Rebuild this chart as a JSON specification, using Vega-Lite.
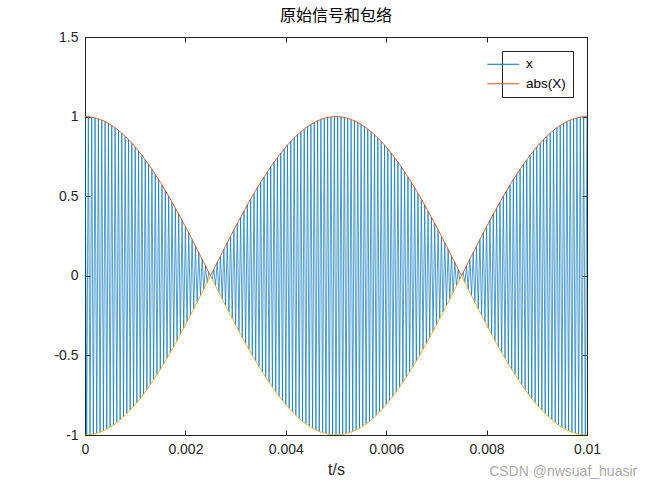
{
  "$schema": "https://vega.github.io/schema/vega-lite/v6.json",
  "width": 502,
  "height": 398,
  "autosize": {"type": "none"},
  "padding": {"left": 85, "top": 37, "right": 63, "bottom": 53},
  "background": "white",
  "title": {"text": "原始信号和包络", "font": "Noto Sans CJK SC", "fontSize": 16, "fontWeight": "normal", "color": "#000000", "offset": 6},
  "config": {
    "view": {"stroke": "#262626", "strokeWidth": 1},
    "axis": {
      "grid": false,
      "domainColor": "#262626",
      "tickColor": "#262626",
      "labelColor": "#262626",
      "labelFont": "Liberation Sans",
      "labelFontSize": 14,
      "labelFlush": false,
      "titleFont": "Liberation Sans",
      "titleFontSize": 16,
      "titleFontWeight": "normal",
      "titleColor": "#262626",
      "tickSize": -5,
      "labelPadding": 12,
      "domainWidth": 1,
      "tickWidth": 1
    }
  },
  "datasets": {
    "sig": [
      {"t":0,"x":1},{"t":0.0000333,"x":-1},{"t":0.0000667,"x":0.999},{"t":0.0001,"x":-0.998},{"t":0.0001333,"x":0.996},{"t":0.0001667,"x":-0.995},{"t":0.0002,"x":0.992},{"t":0.0002333,"x":-0.989},{"t":0.0002667,"x":0.986},{"t":0.0003,"x":-0.982},
      {"t":0.0003333,"x":0.978},{"t":0.0003667,"x":-0.974},{"t":0.0004,"x":0.969},{"t":0.0004333,"x":-0.963},{"t":0.0004667,"x":0.957},{"t":0.0005,"x":-0.951},{"t":0.0005333,"x":0.944},{"t":0.0005667,"x":-0.937},{"t":0.0006,"x":0.930},{"t":0.0006333,"x":-0.922},
      {"t":0.0006667,"x":0.914},{"t":0.0007,"x":-0.905},{"t":0.0007333,"x":0.896},{"t":0.0007667,"x":-0.886},{"t":0.0008,"x":0.876},{"t":0.0008333,"x":-0.866},{"t":0.0008667,"x":0.855},{"t":0.0009,"x":-0.844},{"t":0.0009333,"x":0.833},{"t":0.0009667,"x":-0.821},
      {"t":0.001,"x":0.809},{"t":0.0010333,"x":-0.797},{"t":0.0010667,"x":0.784},{"t":0.0011,"x":-0.771},{"t":0.0011333,"x":0.757},{"t":0.0011667,"x":-0.743},{"t":0.0012,"x":0.729},{"t":0.0012333,"x":-0.714},{"t":0.0012667,"x":0.700},{"t":0.0013,"x":-0.685},
      {"t":0.0013333,"x":0.669},{"t":0.0013667,"x":-0.653},{"t":0.0014,"x":0.637},{"t":0.0014333,"x":-0.621},{"t":0.0014667,"x":0.605},{"t":0.0015,"x":-0.588},{"t":0.0015333,"x":0.571},{"t":0.0015667,"x":-0.553},{"t":0.0016,"x":0.536},{"t":0.0016333,"x":-0.518},
      {"t":0.0016667,"x":0.5},{"t":0.0017,"x":-0.482},{"t":0.0017333,"x":0.463},{"t":0.0017667,"x":-0.445},{"t":0.0018,"x":0.426},{"t":0.0018333,"x":-0.407},{"t":0.0018667,"x":0.388},{"t":0.0019,"x":-0.368},{"t":0.0019333,"x":0.349},{"t":0.0019667,"x":-0.329},
      {"t":0.002,"x":0.309},{"t":0.0020333,"x":-0.289},{"t":0.0020667,"x":0.269},{"t":0.0021,"x":-0.249},{"t":0.0021333,"x":0.228},{"t":0.0021667,"x":-0.208},{"t":0.0022,"x":0.187},{"t":0.0022333,"x":-0.167},{"t":0.0022667,"x":0.146},{"t":0.0023,"x":-0.125},
      {"t":0.0023333,"x":0.105},{"t":0.0023667,"x":-0.084},{"t":0.0024,"x":0.063},{"t":0.0024333,"x":-0.042},{"t":0.0024667,"x":0.021},{"t":0.0025,"x":0},{"t":0.0025333,"x":-0.021},{"t":0.0025667,"x":0.042},{"t":0.0026,"x":-0.063},{"t":0.0026333,"x":0.084},
      {"t":0.0026667,"x":-0.105},{"t":0.0027,"x":0.125},{"t":0.0027333,"x":-0.146},{"t":0.0027667,"x":0.167},{"t":0.0028,"x":-0.187},{"t":0.0028333,"x":0.208},{"t":0.0028667,"x":-0.228},{"t":0.0029,"x":0.249},{"t":0.0029333,"x":-0.269},{"t":0.0029667,"x":0.289},
      {"t":0.003,"x":-0.309},{"t":0.0030333,"x":0.329},{"t":0.0030667,"x":-0.349},{"t":0.0031,"x":0.368},{"t":0.0031333,"x":-0.388},{"t":0.0031667,"x":0.407},{"t":0.0032,"x":-0.426},{"t":0.0032333,"x":0.445},{"t":0.0032667,"x":-0.463},{"t":0.0033,"x":0.482},
      {"t":0.0033333,"x":-0.5},{"t":0.0033667,"x":0.518},{"t":0.0034,"x":-0.536},{"t":0.0034333,"x":0.553},{"t":0.0034667,"x":-0.571},{"t":0.0035,"x":0.588},{"t":0.0035333,"x":-0.605},{"t":0.0035667,"x":0.621},{"t":0.0036,"x":-0.637},{"t":0.0036333,"x":0.653},
      {"t":0.0036667,"x":-0.669},{"t":0.0037,"x":0.685},{"t":0.0037333,"x":-0.700},{"t":0.0037667,"x":0.714},{"t":0.0038,"x":-0.729},{"t":0.0038333,"x":0.743},{"t":0.0038667,"x":-0.757},{"t":0.0039,"x":0.771},{"t":0.0039333,"x":-0.784},{"t":0.0039667,"x":0.797},
      {"t":0.004,"x":-0.809},{"t":0.0040333,"x":0.821},{"t":0.0040667,"x":-0.833},{"t":0.0041,"x":0.844},{"t":0.0041333,"x":-0.855},{"t":0.0041667,"x":0.866},{"t":0.0042,"x":-0.876},{"t":0.0042333,"x":0.886},{"t":0.0042667,"x":-0.896},{"t":0.0043,"x":0.905},
      {"t":0.0043333,"x":-0.914},{"t":0.0043667,"x":0.922},{"t":0.0044,"x":-0.930},{"t":0.0044333,"x":0.937},{"t":0.0044667,"x":-0.944},{"t":0.0045,"x":0.951},{"t":0.0045333,"x":-0.957},{"t":0.0045667,"x":0.963},{"t":0.0046,"x":-0.969},{"t":0.0046333,"x":0.974},
      {"t":0.0046667,"x":-0.978},{"t":0.0047,"x":0.982},{"t":0.0047333,"x":-0.986},{"t":0.0047667,"x":0.989},{"t":0.0048,"x":-0.992},{"t":0.0048333,"x":0.995},{"t":0.0048667,"x":-0.996},{"t":0.0049,"x":0.998},{"t":0.0049333,"x":-0.999},{"t":0.0049667,"x":1},
      {"t":0.005,"x":-1},{"t":0.0050333,"x":1},{"t":0.0050667,"x":-0.999},{"t":0.0051,"x":0.998},{"t":0.0051333,"x":-0.996},{"t":0.0051667,"x":0.995},{"t":0.0052,"x":-0.992},{"t":0.0052333,"x":0.989},{"t":0.0052667,"x":-0.986},{"t":0.0053,"x":0.982},
      {"t":0.0053333,"x":-0.978},{"t":0.0053667,"x":0.974},{"t":0.0054,"x":-0.969},{"t":0.0054333,"x":0.963},{"t":0.0054667,"x":-0.957},{"t":0.0055,"x":0.951},{"t":0.0055333,"x":-0.944},{"t":0.0055667,"x":0.937},{"t":0.0056,"x":-0.930},{"t":0.0056333,"x":0.922},
      {"t":0.0056667,"x":-0.914},{"t":0.0057,"x":0.905},{"t":0.0057333,"x":-0.896},{"t":0.0057667,"x":0.886},{"t":0.0058,"x":-0.876},{"t":0.0058333,"x":0.866},{"t":0.0058667,"x":-0.855},{"t":0.0059,"x":0.844},{"t":0.0059333,"x":-0.833},{"t":0.0059667,"x":0.821},
      {"t":0.006,"x":-0.809},{"t":0.0060333,"x":0.797},{"t":0.0060667,"x":-0.784},{"t":0.0061,"x":0.771},{"t":0.0061333,"x":-0.757},{"t":0.0061667,"x":0.743},{"t":0.0062,"x":-0.729},{"t":0.0062333,"x":0.714},{"t":0.0062667,"x":-0.700},{"t":0.0063,"x":0.685},
      {"t":0.0063333,"x":-0.669},{"t":0.0063667,"x":0.653},{"t":0.0064,"x":-0.637},{"t":0.0064333,"x":0.621},{"t":0.0064667,"x":-0.605},{"t":0.0065,"x":0.588},{"t":0.0065333,"x":-0.571},{"t":0.0065667,"x":0.553},{"t":0.0066,"x":-0.536},{"t":0.0066333,"x":0.518},
      {"t":0.0066667,"x":-0.5},{"t":0.0067,"x":0.482},{"t":0.0067333,"x":-0.463},{"t":0.0067667,"x":0.445},{"t":0.0068,"x":-0.426},{"t":0.0068333,"x":0.407},{"t":0.0068667,"x":-0.388},{"t":0.0069,"x":0.368},{"t":0.0069333,"x":-0.349},{"t":0.0069667,"x":0.329},
      {"t":0.007,"x":-0.309},{"t":0.0070333,"x":0.289},{"t":0.0070667,"x":-0.269},{"t":0.0071,"x":0.249},{"t":0.0071333,"x":-0.228},{"t":0.0071667,"x":0.208},{"t":0.0072,"x":-0.187},{"t":0.0072333,"x":0.167},{"t":0.0072667,"x":-0.146},{"t":0.0073,"x":0.125},
      {"t":0.0073333,"x":-0.105},{"t":0.0073667,"x":0.084},{"t":0.0074,"x":-0.063},{"t":0.0074333,"x":0.042},{"t":0.0074667,"x":-0.021},{"t":0.0075,"x":0},{"t":0.0075333,"x":0.021},{"t":0.0075667,"x":-0.042},{"t":0.0076,"x":0.063},{"t":0.0076333,"x":-0.084},
      {"t":0.0076667,"x":0.105},{"t":0.0077,"x":-0.125},{"t":0.0077333,"x":0.146},{"t":0.0077667,"x":-0.167},{"t":0.0078,"x":0.187},{"t":0.0078333,"x":-0.208},{"t":0.0078667,"x":0.228},{"t":0.0079,"x":-0.249},{"t":0.0079333,"x":0.269},{"t":0.0079667,"x":-0.289},
      {"t":0.008,"x":0.309},{"t":0.0080333,"x":-0.329},{"t":0.0080667,"x":0.349},{"t":0.0081,"x":-0.368},{"t":0.0081333,"x":0.388},{"t":0.0081667,"x":-0.407},{"t":0.0082,"x":0.426},{"t":0.0082333,"x":-0.445},{"t":0.0082667,"x":0.463},{"t":0.0083,"x":-0.482},
      {"t":0.0083333,"x":0.5},{"t":0.0083667,"x":-0.518},{"t":0.0084,"x":0.536},{"t":0.0084333,"x":-0.553},{"t":0.0084667,"x":0.571},{"t":0.0085,"x":-0.588},{"t":0.0085333,"x":0.605},{"t":0.0085667,"x":-0.621},{"t":0.0086,"x":0.637},{"t":0.0086333,"x":-0.653},
      {"t":0.0086667,"x":0.669},{"t":0.0087,"x":-0.685},{"t":0.0087333,"x":0.700},{"t":0.0087667,"x":-0.714},{"t":0.0088,"x":0.729},{"t":0.0088333,"x":-0.743},{"t":0.0088667,"x":0.757},{"t":0.0089,"x":-0.771},{"t":0.0089333,"x":0.784},{"t":0.0089667,"x":-0.797},
      {"t":0.009,"x":0.809},{"t":0.0090333,"x":-0.821},{"t":0.0090667,"x":0.833},{"t":0.0091,"x":-0.844},{"t":0.0091333,"x":0.855},{"t":0.0091667,"x":-0.866},{"t":0.0092,"x":0.876},{"t":0.0092333,"x":-0.886},{"t":0.0092667,"x":0.896},{"t":0.0093,"x":-0.905},
      {"t":0.0093333,"x":0.914},{"t":0.0093667,"x":-0.922},{"t":0.0094,"x":0.930},{"t":0.0094333,"x":-0.937},{"t":0.0094667,"x":0.944},{"t":0.0095,"x":-0.951},{"t":0.0095333,"x":0.957},{"t":0.0095667,"x":-0.963},{"t":0.0096,"x":0.969},{"t":0.0096333,"x":-0.974},
      {"t":0.0096667,"x":0.978},{"t":0.0097,"x":-0.982},{"t":0.0097333,"x":0.986},{"t":0.0097667,"x":-0.989},{"t":0.0098,"x":0.992},{"t":0.0098333,"x":-0.995},{"t":0.0098667,"x":0.996},{"t":0.0099,"x":-0.998},{"t":0.0099333,"x":0.999},{"t":0.0099667,"x":-1},
      {"t":0.01,"x":1}
    ],
    "env": [
      {"t":0,"up":1,"lo":-1},{"t":0.0001,"up":0.998,"lo":-0.998},{"t":0.0002,"up":0.992,"lo":-0.992},{"t":0.0003,"up":0.982,"lo":-0.982},{"t":0.0004,"up":0.969,"lo":-0.969},{"t":0.0005,"up":0.951,"lo":-0.951},{"t":0.0006,"up":0.930,"lo":-0.930},{"t":0.0007,"up":0.905,"lo":-0.905},{"t":0.0008,"up":0.876,"lo":-0.876},{"t":0.0009,"up":0.844,"lo":-0.844},
      {"t":0.001,"up":0.809,"lo":-0.809},{"t":0.0011,"up":0.771,"lo":-0.771},{"t":0.0012,"up":0.729,"lo":-0.729},{"t":0.0013,"up":0.685,"lo":-0.685},{"t":0.0014,"up":0.637,"lo":-0.637},{"t":0.0015,"up":0.588,"lo":-0.588},{"t":0.0016,"up":0.536,"lo":-0.536},{"t":0.0017,"up":0.482,"lo":-0.482},{"t":0.0018,"up":0.426,"lo":-0.426},{"t":0.0019,"up":0.368,"lo":-0.368},
      {"t":0.002,"up":0.309,"lo":-0.309},{"t":0.0021,"up":0.249,"lo":-0.249},{"t":0.0022,"up":0.187,"lo":-0.187},{"t":0.0023,"up":0.125,"lo":-0.125},{"t":0.0024,"up":0.063,"lo":-0.063},{"t":0.0025,"up":0,"lo":0},{"t":0.0026,"up":0.063,"lo":-0.063},{"t":0.0027,"up":0.125,"lo":-0.125},{"t":0.0028,"up":0.187,"lo":-0.187},{"t":0.0029,"up":0.249,"lo":-0.249},
      {"t":0.003,"up":0.309,"lo":-0.309},{"t":0.0031,"up":0.368,"lo":-0.368},{"t":0.0032,"up":0.426,"lo":-0.426},{"t":0.0033,"up":0.482,"lo":-0.482},{"t":0.0034,"up":0.536,"lo":-0.536},{"t":0.0035,"up":0.588,"lo":-0.588},{"t":0.0036,"up":0.637,"lo":-0.637},{"t":0.0037,"up":0.685,"lo":-0.685},{"t":0.0038,"up":0.729,"lo":-0.729},{"t":0.0039,"up":0.771,"lo":-0.771},
      {"t":0.004,"up":0.809,"lo":-0.809},{"t":0.0041,"up":0.844,"lo":-0.844},{"t":0.0042,"up":0.876,"lo":-0.876},{"t":0.0043,"up":0.905,"lo":-0.905},{"t":0.0044,"up":0.930,"lo":-0.930},{"t":0.0045,"up":0.951,"lo":-0.951},{"t":0.0046,"up":0.969,"lo":-0.969},{"t":0.0047,"up":0.982,"lo":-0.982},{"t":0.0048,"up":0.992,"lo":-0.992},{"t":0.0049,"up":0.998,"lo":-0.998},
      {"t":0.005,"up":1,"lo":-1},{"t":0.0051,"up":0.998,"lo":-0.998},{"t":0.0052,"up":0.992,"lo":-0.992},{"t":0.0053,"up":0.982,"lo":-0.982},{"t":0.0054,"up":0.969,"lo":-0.969},{"t":0.0055,"up":0.951,"lo":-0.951},{"t":0.0056,"up":0.930,"lo":-0.930},{"t":0.0057,"up":0.905,"lo":-0.905},{"t":0.0058,"up":0.876,"lo":-0.876},{"t":0.0059,"up":0.844,"lo":-0.844},
      {"t":0.006,"up":0.809,"lo":-0.809},{"t":0.0061,"up":0.771,"lo":-0.771},{"t":0.0062,"up":0.729,"lo":-0.729},{"t":0.0063,"up":0.685,"lo":-0.685},{"t":0.0064,"up":0.637,"lo":-0.637},{"t":0.0065,"up":0.588,"lo":-0.588},{"t":0.0066,"up":0.536,"lo":-0.536},{"t":0.0067,"up":0.482,"lo":-0.482},{"t":0.0068,"up":0.426,"lo":-0.426},{"t":0.0069,"up":0.368,"lo":-0.368},
      {"t":0.007,"up":0.309,"lo":-0.309},{"t":0.0071,"up":0.249,"lo":-0.249},{"t":0.0072,"up":0.187,"lo":-0.187},{"t":0.0073,"up":0.125,"lo":-0.125},{"t":0.0074,"up":0.063,"lo":-0.063},{"t":0.0075,"up":0,"lo":0},{"t":0.0076,"up":0.063,"lo":-0.063},{"t":0.0077,"up":0.125,"lo":-0.125},{"t":0.0078,"up":0.187,"lo":-0.187},{"t":0.0079,"up":0.249,"lo":-0.249},
      {"t":0.008,"up":0.309,"lo":-0.309},{"t":0.0081,"up":0.368,"lo":-0.368},{"t":0.0082,"up":0.426,"lo":-0.426},{"t":0.0083,"up":0.482,"lo":-0.482},{"t":0.0084,"up":0.536,"lo":-0.536},{"t":0.0085,"up":0.588,"lo":-0.588},{"t":0.0086,"up":0.637,"lo":-0.637},{"t":0.0087,"up":0.685,"lo":-0.685},{"t":0.0088,"up":0.729,"lo":-0.729},{"t":0.0089,"up":0.771,"lo":-0.771},
      {"t":0.009,"up":0.809,"lo":-0.809},{"t":0.0091,"up":0.844,"lo":-0.844},{"t":0.0092,"up":0.876,"lo":-0.876},{"t":0.0093,"up":0.905,"lo":-0.905},{"t":0.0094,"up":0.930,"lo":-0.930},{"t":0.0095,"up":0.951,"lo":-0.951},{"t":0.0096,"up":0.969,"lo":-0.969},{"t":0.0097,"up":0.982,"lo":-0.982},{"t":0.0098,"up":0.992,"lo":-0.992},{"t":0.0099,"up":0.998,"lo":-0.998},
      {"t":0.01,"up":1,"lo":-1}
    ],
    "mark": [{"label": "CSDN @nwsuaf_huasir", "t": 0.011, "v": -1.23}]
  },
  "layer": [
    {
      "data": {"name": "sig"},
      "mark": {"type": "line", "strokeWidth": 0.7, "clip": true},
      "encoding": {
        "x": {"field": "t", "type": "quantitative", "scale": {"domain": [0, 0.01], "nice": false, "zero": false},
              "axis": {"orient": "bottom", "values": [0, 0.002, 0.004, 0.006, 0.008, 0.01], "labelExpr": "toString(datum.value)", "title": "t/s", "titlePadding": 5}},
        "y": {"field": "x", "type": "quantitative", "scale": {"domain": [-1, 1.5], "nice": false, "zero": false},
              "axis": {"orient": "left", "values": [-1, -0.5, 0, 0.5, 1, 1.5], "labelExpr": "toString(datum.value)", "title": null}},
        "color": {"datum": "x", "type": "nominal",
                  "scale": {"domain": ["x", "abs(X)"], "range": ["#0072BD", "#D95319"]},
                  "legend": {"title": null, "orient": "top-right", "offset": 14, "strokeColor": "#262626", "fillColor": "white",
                             "padding": 6.5, "symbolType": "M-7,0H1", "symbolSize": 64, "symbolStrokeWidth": 1,
                             "labelFont": "Liberation Sans", "labelFontSize": 13.5, "labelColor": "#000000", "labelOffset": 4, "rowPadding": 4.5, "labelLimit": 200}}
      }
    },
    {
      "data": {"name": "env"},
      "mark": {"type": "line", "strokeWidth": 0.9, "clip": true},
      "encoding": {
        "x": {"field": "t", "type": "quantitative",
              "axis": {"orient": "top", "values": [0, 0.002, 0.004, 0.006, 0.008, 0.01], "labels": false, "title": null}},
        "y": {"field": "up", "type": "quantitative",
              "axis": {"orient": "right", "values": [-1, -0.5, 0, 0.5, 1, 1.5], "labels": false, "title": null}},
        "color": {"datum": "abs(X)", "type": "nominal"}
      }
    },
    {
      "data": {"name": "env"},
      "mark": {"type": "line", "strokeWidth": 0.9, "color": "#EDB120", "clip": true},
      "encoding": {
        "x": {"field": "t", "type": "quantitative", "axis": null},
        "y": {"field": "lo", "type": "quantitative", "axis": null}
      }
    },
    {
      "data": {"name": "mark"},
      "mark": {"type": "text", "font": "Liberation Sans", "fontSize": 14, "color": "#aaaaaa", "align": "right", "baseline": "middle", "clip": false},
      "encoding": {
        "x": {"field": "t", "type": "quantitative", "axis": null},
        "y": {"field": "v", "type": "quantitative", "axis": null},
        "text": {"field": "label"}
      }
    }
  ],
  "resolve": {"axis": {"x": "independent", "y": "independent"}}
}
